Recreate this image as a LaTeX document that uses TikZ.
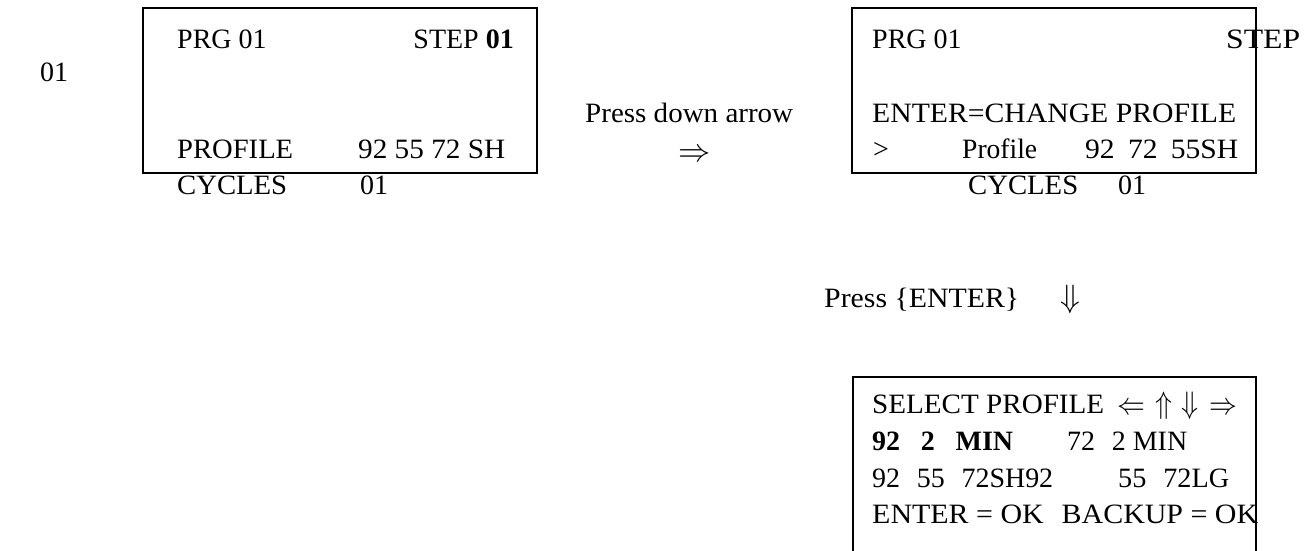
\documentclass[tikz,border=0pt]{standalone}
\usepackage{fontspec}
\usepackage{graphicx}
\setmainfont{Liberation Serif}
\newcommand\fitw[2]{\resizebox{#1pt}{\height}{#2}}
\newcommand\bigar[1]{\scalebox{1.3}{$#1$}}
\newcommand\midar[1]{\scalebox{1.12}[1.25]{$#1$}}
\begin{document}
\begin{tikzpicture}[x=1pt,y=-1pt,
  txt/.style={anchor=base west,inner sep=0pt,font=\fontsize{28}{32}\selectfont},
  txte/.style={anchor=base east,inner sep=0pt,font=\fontsize{28}{32}\selectfont},
  arr/.style={anchor=base,inner sep=0pt,font=\fontsize{28}{32}\selectfont},
  frame/.style={draw=black,line width=1.6pt}]
\useasboundingbox (0,0) rectangle (1304,550);
% left stray label
\node[txt] (lone) at (40,81) {01};
% box 1
\draw[frame] (143,8) rectangle (537,173);
\node[txt] (b1prg) at (177,48) {PRG 01};
\node[txte] (b1step) at (514,48) {STEP \textbf{01}};
\node[txt] (b1prof) at (177,158) {\fitw{116}{PROFILE}};
\node[txt] (b1val) at (358,158) {\fitw{147}{92 55 72 SH}};
\node[txt] (b1cyc) at (177,194) {\fitw{110}{CYCLES}};
\node[txt] (b1cycv) at (360,194) {01};
% middle label
\node[txt] (press) at (585,122) {\fitw{208}{Press down arrow}};
\node[arr] (rarr) at (695,161) {\bigar{\Rightarrow}};
% box 2
\draw[frame] (852,8) rectangle (1256,173);
\node[txt] (b2prg) at (872,48) {PRG 01};
\node[txt] (b2step) at (1226,48) {\fitw{74}{STEP}};
\node[txt] (b2ent) at (872,122) {\fitw{364}{ENTER=CHANGE PROFILE}};
\node[txt] (b2gt) at (873,158) {>};
\node[txt] (b2prof) at (962,158) {\fitw{75}{Profile}};
\node[txt] (b2val) at (1085,158) {\fitw{153}{92\hspace{0.45em}72\hspace{0.45em}55SH}};
\node[txt] (b2cyc) at (968,194) {\fitw{110}{CYCLES}};
\node[txt] (b2cycv) at (1118,194) {01};
% enter label
\node[txt] (pent) at (824,307) {\fitw{195}{Press \{ENTER\}}};
\node[arr] (darr) at (1070,307) {\bigar{\Downarrow}};
% box 3 (open at bottom)
\draw[frame] (853,551) -- (853,377) -- (1256,377) -- (1256,551);
\node[txt] (b3l1) at (872,413) {\fitw{232}{SELECT PROFILE}};
\node[arr] (a1) at (1131,414) {\midar{\Leftarrow}};
\node[arr] (a2) at (1164,413) {\midar{\Uparrow}};
\node[arr] (a3) at (1190,413) {\midar{\Downarrow}};
\node[arr] (a4) at (1223,414) {\midar{\Rightarrow}};
\node[txt] (b3l2a) at (872,450) {\fitw{141}{\textbf{92\hspace{0.74em}2\hspace{0.74em}MIN}}};
\node[txt] (b3l2b) at (1067,450) {\fitw{120}{72\hspace{0.6em}2 MIN}};
\node[txt] (b3l3a) at (872,487) {\fitw{181}{92\hspace{0.6em}55\hspace{0.6em}72SH92}};
\node[txt] (b3l3b) at (1118,487) {\fitw{111}{55\hspace{0.6em}72LG}};
\node[txt] (b3l4) at (872,523) {\fitw{386}{ENTER = OK\hspace{0.6em}BACKUP = OK}};
\end{tikzpicture}
\end{document}
